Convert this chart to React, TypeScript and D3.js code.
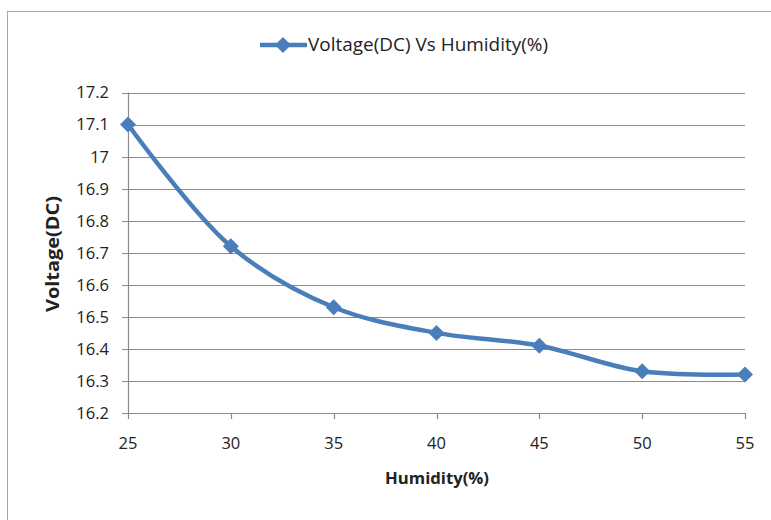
import React from "react";
import * as d3 from "d3";

const humidity = [25, 30, 35, 40, 45, 50, 55];
const voltage = [17.1, 16.72, 16.53, 16.45, 16.41, 16.33, 16.32];
const yTicks = [16.2, 16.3, 16.4, 16.5, 16.6, 16.7, 16.8, 16.9, 17, 17.1, 17.2];
const xTicks = [25, 30, 35, 40, 45, 50, 55];
const seriesName = "Voltage(DC) Vs Humidity(%)";
const xTitle = "Humidity(%)";
const yTitle = "Voltage(DC)";

const W = 771;
const H = 520;
const left = 128;
const right = 745;
const top = 92.5;
const bottom = 413;
const blue = "#4A7EBB";
const grid = "#8C8C8C";
const font = "'Open Sans', 'Liberation Sans', sans-serif";

function diamond(cx: number, cy: number, r: number) {
  return `M${cx},${cy - r}L${cx + r},${cy}L${cx},${cy + r}L${cx - r},${cy}Z`;
}

export default function App() {
  const x = d3.scaleLinear().domain([25, 55]).range([left, right]);
  const y = d3.scaleLinear().domain([16.2, 17.2]).range([bottom, top]);
  const pts: [number, number][] = humidity.map((h, i) => [x(h), y(voltage[i])]);
  const line = d3.line().curve(d3.curveCatmullRom.alpha(0.5))(pts) || "";

  return (
    <svg
      width={W}
      height={H}
      style={{ position: "absolute", left: 0, top: 0, background: "#fff" }}
      fontFamily={font}
    >
      <rect x={7.5} y={11.5} width={800} height={560} fill="#fff" stroke="#A6A6A6" strokeWidth={1} />

      {yTicks.map((t) => (
        <g key={"y" + t}>
          <line x1={left - 6} x2={right} y1={Math.round(y(t)) + 0.5} y2={Math.round(y(t)) + 0.5} stroke={grid} strokeWidth={1.2} />
          <text x={109} y={y(t)} dy="0.36em" textAnchor="end" fontSize={16.5} fill="#222">
            {d3.format("")(t)}
          </text>
        </g>
      ))}
      <line x1={left + 0.5} x2={left + 0.5} y1={top} y2={bottom + 0.5} stroke={grid} strokeWidth={1.2} />
      {xTicks.map((t) => (
        <g key={"x" + t}>
          <line x1={Math.round(x(t)) + 0.5} x2={Math.round(x(t)) + 0.5} y1={bottom} y2={bottom + 6} stroke={grid} strokeWidth={1.2} />
          <text x={x(t)} y={443} textAnchor="middle" fontSize={16.5} fill="#222" dy="0.36em">
            {t}
          </text>
        </g>
      ))}

      <path d={line} fill="none" stroke={blue} strokeWidth={4.5} strokeLinejoin="round" />
      {pts.map((p, i) => (
        <path key={i} d={diamond(p[0], p[1], 8)} fill={blue} />
      ))}

      <text
        x={437}
        y={478}
        textAnchor="middle"
        fontSize={16.5}
        fontWeight="bold"
        fill="#222"
        dy="0.36em"
        textLength={104}
        lengthAdjust="spacingAndGlyphs"
      >
        {xTitle}
      </text>
      <text
        transform={`translate(53,${254}) rotate(-90)`}
        textAnchor="middle"
        fontSize={17}
        fontWeight="bold"
        fill="#222"
        dy="0.36em"
        textLength={116}
        lengthAdjust="spacingAndGlyphs"
      >
        {yTitle}
      </text>

      <line x1={260} x2={307} y1={45} y2={45} stroke={blue} strokeWidth={4.5} />
      <path d={diamond(283, 45, 8)} fill={blue} />
      <text
        x={308}
        y={45}
        dy="0.36em"
        fontSize={17.5}
        fill="#222"
        textLength={240}
        lengthAdjust="spacingAndGlyphs"
      >
        {seriesName}
      </text>
    </svg>
  );
}
